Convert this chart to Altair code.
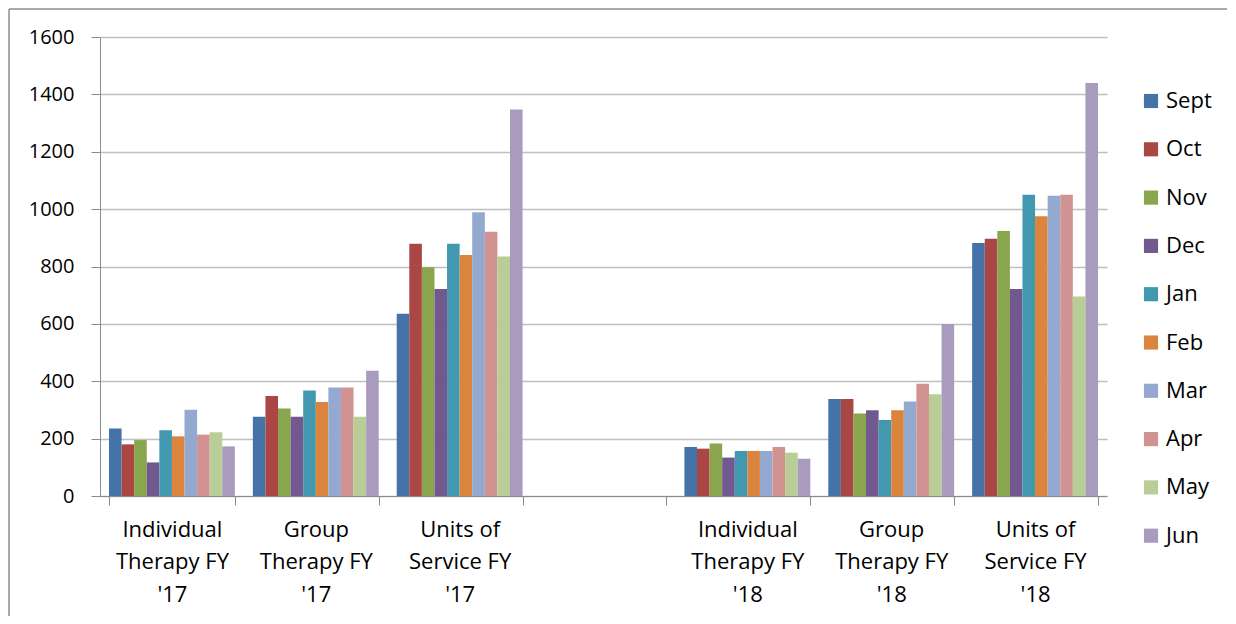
import altair as alt
import pandas as pd

categories = [
    "Individual|Therapy FY|'17",
    "Group|Therapy FY|'17",
    "Units of|Service FY|'17",
    " ",
    "Individual|Therapy FY|'18",
    "Group|Therapy FY|'18",
    "Units of|Service FY|'18",
]
months = ["Sept", "Oct", "Nov", "Dec", "Jan", "Feb", "Mar", "Apr", "May", "Jun"]
colors = ["#4572A7", "#AA4643", "#89A54E", "#71588F", "#4198AF",
          "#DB843D", "#93A9CF", "#D19392", "#B9CD96", "#A99BBD"]

individual_17 = [235, 180, 195, 117, 229, 208, 301, 214, 222, 173]
group_17 = [276, 349, 305, 276, 368, 328, 378, 378, 276, 437]
units_17 = [635, 879, 797, 722, 879, 840, 989, 921, 835, 1347]
individual_18 = [171, 165, 183, 134, 157, 157, 157, 171, 151, 130]
group_18 = [338, 338, 288, 299, 265, 299, 329, 391, 355, 600]
units_18 = [882, 897, 924, 722, 1050, 975, 1047, 1050, 695, 1440]

series = {
    categories[0]: individual_17,
    categories[1]: group_17,
    categories[2]: units_17,
    categories[4]: individual_18,
    categories[5]: group_18,
    categories[6]: units_18,
}

rows = []
for cat, vals in series.items():
    for m, v in zip(months, vals):
        rows.append({"category": cat, "month": m, "value": v})
df = pd.DataFrame(rows)

FONT = "Open Sans"
W, H = 1007, 459

bars = alt.Chart(df).mark_bar().encode(
    x=alt.X("category:N", sort=categories, title=None,
            scale=alt.Scale(domain=categories, paddingInner=0.125, paddingOuter=0.0625),
            axis=alt.Axis(labelExpr="split(datum.label, '|')", labelAngle=0,
                          tickBand="extent", tickSize=9, tickColor="#8C8C8C",
                          domainColor="#8C8C8C", labelFontSize=22, labelFont=FONT,
                          labelColor="#000000", labelLineHeight=32.5, labelPadding=14,
                          labelBaseline="top", grid=False)),
    xOffset=alt.XOffset("month:N", sort=months,
                        scale=alt.Scale(domain=months, paddingInner=0, paddingOuter=0)),
    y=alt.Y("value:Q", title=None,
            scale=alt.Scale(domain=[0, 1600], nice=False),
            axis=alt.Axis(values=list(range(0, 1601, 200)), format="d", tickSize=9,
                          tickColor="#8C8C8C", domainColor="#8C8C8C",
                          gridColor="#BFBFBF", gridWidth=1.5,
                          labelFontSize=20, labelFont=FONT, labelColor="#000000",
                          labelPadding=17)),
    color=alt.Color("month:N", sort=months, title=None,
                    scale=alt.Scale(domain=months, range=colors),
                    legend=alt.Legend(orient="none", legendX=1040, legendY=53,
                                      symbolType="square", symbolSize=200,
                                      symbolStrokeWidth=0, labelFontSize=22,
                                      labelFont=FONT, labelColor="#000000",
                                      rowPadding=26.3, padding=0, labelOffset=4)),
)

one = pd.DataFrame({"a": [0]})
frame_left = alt.Chart(one).mark_rule(
    stroke="#8C8C8C", strokeWidth=1.5, clip=False
).encode(x=alt.value(-91), y=alt.value(-28), y2=alt.value(700))
frame_top = alt.Chart(one).mark_rule(
    stroke="#8C8C8C", strokeWidth=1.5, clip=False
).encode(x=alt.value(-91), x2=alt.value(1300), y=alt.value(-28))

chart = alt.layer(bars, frame_left, frame_top).properties(
    width=W, height=H,
    background="white",
    autosize=alt.AutoSizeParams(type="none"),
    padding={"left": 92, "top": 29, "right": 120, "bottom": 120},
).configure_view(strokeWidth=0, stroke="transparent")

chart.save("out.html", embed_options={"renderer": "svg", "actions": False})
